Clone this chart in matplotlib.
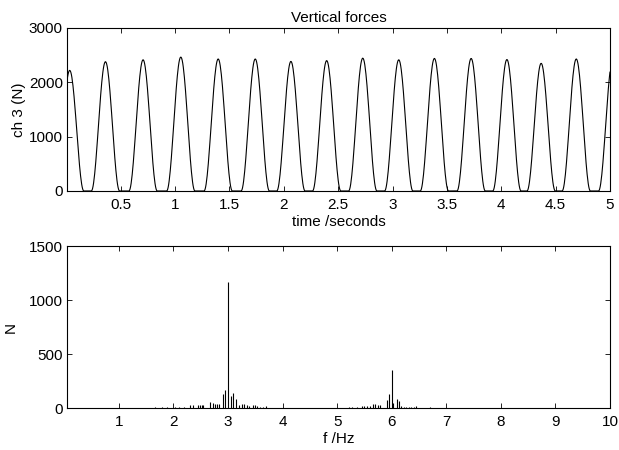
import numpy as np
import matplotlib
matplotlib.use("Agg")
import matplotlib.pyplot as plt

# --- data ---
# top panel: force pulses (peak time in s, peak force in N)
peak_times = [0.03, 0.359, 0.705, 1.052, 1.396, 1.737, 2.065, 2.394,
              2.726, 3.057, 3.385, 3.723, 4.052, 4.367, 4.69, 5.025]
peak_forces = [2220, 2380, 2415, 2465, 2430, 2430, 2385, 2400,
               2445, 2415, 2440, 2440, 2420, 2350, 2430, 2400]
pulse_half_width = 0.13  # seconds from foot to peak

# bottom panel: spectrum lines (Hz, N)
spec_freqs = [1.66, 1.80, 1.88, 2.03, 2.10, 2.20, 2.31, 2.36, 2.45, 2.48,
              2.52, 2.55, 2.67, 2.72, 2.76, 2.80, 2.84, 2.90, 2.945, 3.0,
              3.05, 3.10, 3.15, 3.20, 3.25, 3.29, 3.34, 3.39, 3.45, 3.49,
              3.53, 3.58, 3.64, 3.69,
              5.21, 5.27, 5.37, 5.46, 5.50, 5.55, 5.61, 5.66, 5.70, 5.75,
              5.79, 5.91, 5.95, 6.0, 6.03, 6.09, 6.14, 6.18, 6.22, 6.26,
              6.31, 6.36, 6.40, 6.45, 6.70]
spec_amps = [9, 9, 9, 9, 12, 12, 31, 25, 30, 31,
             31, 31, 55, 43, 40, 40, 37, 126, 166, 1170,
             108, 142, 86, 25, 40, 40, 28, 15, 31, 31,
             22, 12, 9, 22,
             9, 9, 9, 15, 18, 15, 15, 37, 37, 25,
             31, 71, 126, 354, 49, 86, 62, 15, 12, 12,
             12, 12, 9, 15, 9]

FS = 11
plt.rcParams['font.family'] = ['Liberation Sans', 'DejaVu Sans']
plt.rcParams['font.size'] = FS

fig = plt.figure(figsize=(6.19, 4.5), dpi=100)
ax1 = fig.add_axes([0.1082, 0.5756, 0.8772, 0.3622])
ax2 = fig.add_axes([0.1082, 0.0933, 0.8772, 0.3600])

# build the force trace from the pulses
t = np.arange(0.005, 5.0001, 0.005)
force = np.zeros_like(t)
for tp, fp in zip(peak_times, peak_forces):
    u = (t - tp) / pulse_half_width
    inside = np.abs(u) < 1
    force[inside] = np.maximum(force[inside], fp * np.cos(np.pi / 2 * u[inside]) ** 2)

ax1.plot(t, force, color='black', linewidth=0.8)
ax1.set_xlim(0.005, 5)
ax1.set_ylim(0, 3000)
ax1.set_xticks([0.5, 1, 1.5, 2, 2.5, 3, 3.5, 4, 4.5, 5])
ax1.set_xticklabels(['0.5', '1', '1.5', '2', '2.5', '3', '3.5', '4', '4.5', '5'])
ax1.set_yticks([0, 1000, 2000, 3000])
ax1.set_title('Vertical forces', fontsize=FS, pad=4)
ax1.set_xlabel('time /seconds', labelpad=2)
ax1.set_ylabel('ch 3 (N)', labelpad=2)

ax2.vlines(spec_freqs, 0, spec_amps, color='black', linewidth=0.8)
ax2.set_xlim(0.05, 10)
ax2.set_ylim(0, 1500)
ax2.set_xticks(range(1, 11))
ax2.set_yticks([0, 500, 1000, 1500])
ax2.set_xlabel('f /Hz', labelpad=2)
ax2.set_ylabel('N', labelpad=8)

for ax in (ax1, ax2):
    ax.tick_params(direction='in', length=3.5, width=0.6, top=True, right=True,
                   labelsize=FS)
    ax.tick_params(axis='x', pad=5)
    ax.tick_params(axis='y', pad=3)
    for s in ax.spines.values():
        s.set_linewidth(0.8)

fig.savefig('out.png', dpi=100)
